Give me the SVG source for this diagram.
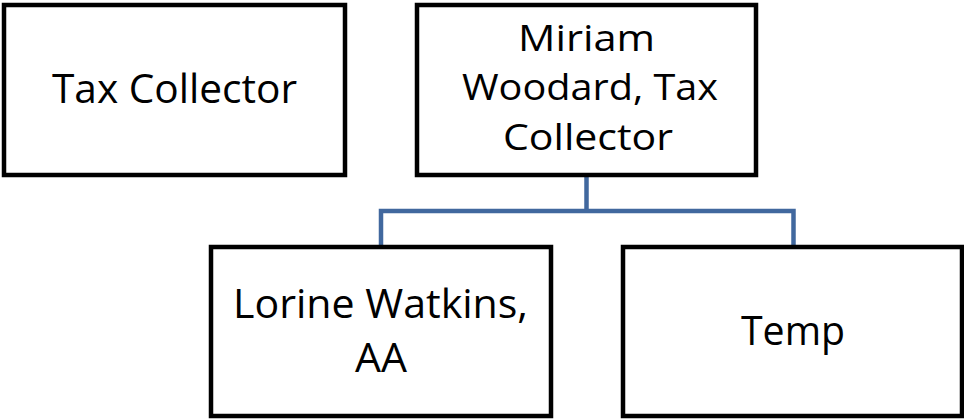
<svg xmlns="http://www.w3.org/2000/svg" width="964" height="420" viewBox="0 0 964 420">
<style>
.box{fill:#fff;stroke:#000;stroke-width:4.5}
.lbl{font-family:"Open Sans","Liberation Sans",sans-serif;font-size:40px;fill:#000;text-anchor:middle}
.sm{font-size:36px}
.conn{fill:none;stroke:#41689e;stroke-width:4.5;stroke-linejoin:miter}
</style>
<rect width="964" height="420" fill="#fff"/>
<g id="connectors">
<path class="conn" d="M586.5 175 V211 M381 247 V211 H793.5 V247"/>
</g>
<g id="tax-collector">
<rect class="box" x="4" y="5" width="341" height="170"/>
<text class="lbl" x="174.5" y="103" textLength="245" lengthAdjust="spacingAndGlyphs">Tax Collector</text>
</g>
<g id="miriam">
<rect class="box" x="417" y="5" width="339" height="170"/>
<text class="lbl sm" x="586.5" y="51" textLength="137" lengthAdjust="spacingAndGlyphs">Miriam</text>
<text class="lbl sm" x="590" y="100" textLength="256" lengthAdjust="spacingAndGlyphs">Woodard, Tax</text>
<text class="lbl sm" x="588" y="150" textLength="170" lengthAdjust="spacingAndGlyphs">Collector</text>
</g>
<g id="lorine">
<rect class="box" x="211" y="247" width="340" height="169"/>
<text class="lbl" x="380.5" y="318" textLength="295" lengthAdjust="spacingAndGlyphs">Lorine Watkins,</text>
<text class="lbl" x="381" y="372" textLength="52" lengthAdjust="spacingAndGlyphs">AA</text>
</g>
<g id="temp">
<rect class="box" x="623" y="247" width="339" height="169"/>
<text class="lbl" x="793" y="345" textLength="104" lengthAdjust="spacingAndGlyphs">Temp</text>
</g>
</svg>
